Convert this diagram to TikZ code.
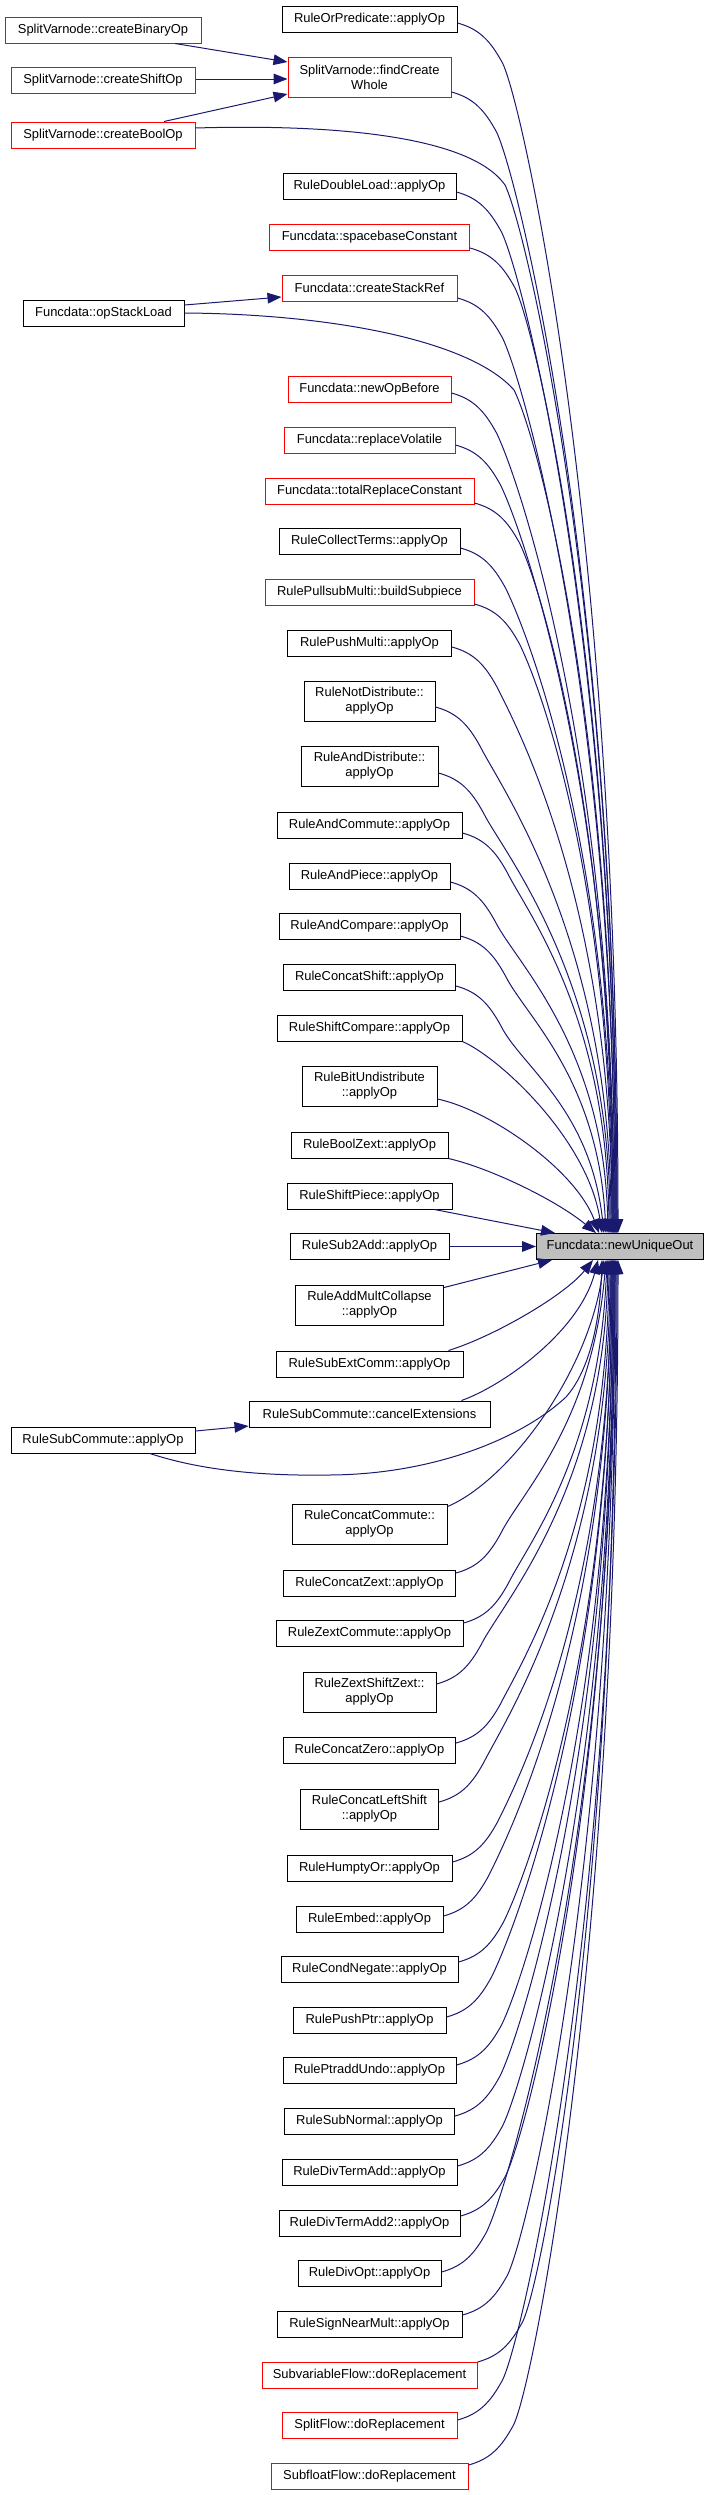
\documentclass[tikz,border=0pt]{standalone}
\usepackage{fontspec}
\setmainfont{Liberation Sans}
\usetikzlibrary{arrows.meta,calc}
\definecolor{edgeblue}{HTML}{191970}
\definecolor{boxred}{HTML}{FF0000}
\definecolor{tgtgray}{HTML}{BFBFBF}
\newcommand\upE[5]{\draw[e] ($(#1.east)+(0,#2)$) .. controls +(22,6) and +(-12,-22) .. ++(45,40) .. controls +(20,40) and +(#5,-#4) .. ($(tgt.north)+(#3,0)$);}
\newcommand\dnE[5]{\draw[e] ($(#1.east)+(0,#2)$) .. controls +(22,-6) and +(-12,22) .. ++(45,-40) .. controls +(20,-40) and +(#5,#4) .. ($(tgt.south)+(#3,0)$);}
\begin{document}
\begin{tikzpicture}[x=0.75pt,y=-0.75pt,
  box/.style={draw=black, line width=0.75pt, rectangle, inner sep=0pt, align=center,
    minimum height=19.5pt, font=\fontsize{9.7}{11.3}\selectfont},
  rbox/.style={box, draw=boxred},
  tall/.style={minimum height=30pt},
  wd/.style={minimum width=#1*0.75pt},
  e/.style={draw=edgeblue, line width=0.75pt, -{Triangle[length=10.5pt,width=8pt]}}]
\useasboundingbox (0,0) rectangle (708,2495);

% left column
\node[rbox, wd=196] (cbin) at (103,30) {SplitVarnode::createBinaryOp};
\node[rbox, wd=184] (cshift) at (103,80) {SplitVarnode::createShiftOp};
\node[rbox, wd=184] (cbool) at (103,135) {SplitVarnode::createBoolOp};
\node[box, wd=161] (osl) at (103.5,313) {Funcdata::opStackLoad};
\node[box, wd=184] (rsca) at (103,1440) {RuleSubCommute::applyOp};

% middle column
\node[box, wd=175] (orp) at (369.5,19) {RuleOrPredicate::applyOp};
\node[rbox, tall, wd=163] (fcw) at (369.5,77) {SplitVarnode::findCreate\\Whole};
\node[box, wd=173] (rdl) at (369.5,186) {RuleDoubleLoad::applyOp};
\node[rbox, wd=200] (sbc) at (369.5,237) {Funcdata::spacebaseConstant};
\node[rbox, wd=175] (csr) at (369.5,288) {Funcdata::createStackRef};
\node[rbox, wd=163] (nob) at (369.5,389) {Funcdata::newOpBefore};
\node[rbox, wd=171] (rv) at (369.5,440) {Funcdata::replaceVolatile};
\node[rbox, wd=209] (trc) at (369.5,491) {Funcdata::totalReplaceConstant};
\node[box, wd=181] (rct) at (369.5,541) {RuleCollectTerms::applyOp};
\node[rbox, wd=209] (rpm) at (369.5,592) {RulePullsubMulti::buildSubpiece};
\node[box, wd=164] (rpush) at (369.5,643) {RulePushMulti::applyOp};
\node[box, tall, wd=131] (rnd) at (369.5,701) {RuleNotDistribute::\\applyOp};
\node[box, tall, wd=137] (rad) at (369.5,766) {RuleAndDistribute::\\applyOp};
\node[box, wd=185] (racomm) at (369.5,825) {RuleAndCommute::applyOp};
\node[box, wd=161] (rap) at (369.5,876) {RuleAndPiece::applyOp};
\node[box, wd=181] (racmp) at (369.5,926) {RuleAndCompare::applyOp};
\node[box, wd=172] (rcs) at (369.5,977) {RuleConcatShift::applyOp};
\node[box, wd=185] (rsc) at (369.5,1028) {RuleShiftCompare::applyOp};
\node[box, tall, wd=135] (rbu) at (369.5,1086) {RuleBitUndistribute\\::applyOp};
\node[box, wd=157] (rbz) at (369.5,1145) {RuleBoolZext::applyOp};
\node[box, wd=165] (rsp) at (369.5,1196) {RuleShiftPiece::applyOp};
\node[box, wd=159] (rs2a) at (369.5,1246.5) {RuleSub2Add::applyOp};
\node[box, tall, wd=148] (ramc) at (369.5,1305) {RuleAddMultCollapse\\::applyOp};
\node[box, wd=187] (rsec) at (369.5,1364) {RuleSubExtComm::applyOp};
\node[box, wd=241] (rsce) at (369.5,1414) {RuleSubCommute::cancelExtensions};
\node[box, tall, wd=155] (rcc) at (369.5,1524) {RuleConcatCommute::\\applyOp};
\node[box, wd=172] (rcz) at (369.5,1583) {RuleConcatZext::applyOp};
\node[box, wd=187] (rzc) at (369.5,1633) {RuleZextCommute::applyOp};
\node[box, tall, wd=133] (rzsz) at (369.5,1692) {RuleZextShiftZext::\\applyOp};
\node[box, wd=172] (rczero) at (369.5,1750) {RuleConcatZero::applyOp};
\node[box, tall, wd=138] (rcls) at (369.5,1809) {RuleConcatLeftShift\\::applyOp};
\node[box, wd=165] (rho) at (369.5,1868) {RuleHumptyOr::applyOp};
\node[box, wd=147] (remb) at (369.5,1919) {RuleEmbed::applyOp};
\node[box, wd=177] (rcn) at (369.5,1969) {RuleCondNegate::applyOp};
\node[box, wd=153] (rpp) at (369.5,2020) {RulePushPtr::applyOp};
\node[box, wd=173] (rpu) at (369.5,2070) {RulePtraddUndo::applyOp};
\node[box, wd=170] (rsn) at (369.5,2121) {RuleSubNormal::applyOp};
\node[box, wd=175] (rdta) at (369.5,2172) {RuleDivTermAdd::applyOp};
\node[box, wd=181] (rdta2) at (369.5,2223) {RuleDivTermAdd2::applyOp};
\node[box, wd=143] (rdo) at (369.5,2273) {RuleDivOpt::applyOp};
\node[box, wd=185] (rsnm) at (369.5,2324) {RuleSignNearMult::applyOp};
\node[rbox, wd=215] (svf) at (369.5,2375) {SubvariableFlow::doReplacement};
\node[rbox, wd=175] (sf) at (369.5,2425) {SplitFlow::doReplacement};
\node[rbox, wd=197] (sff) at (369.5,2476) {SubfloatFlow::doReplacement};

% target
\node[box, fill=tgtgray, wd=167] (tgt) at (620,1246.5) {Funcdata::newUniqueOut};

% left-column edges
\draw[e] ($(cbin.south)+(72,0)$) -- ($(fcw.west)+(0,-15)$);
\draw[e] ($(cshift.east)+(0,-1)$) -- ($(fcw.west)+(0,2)$);
\draw[e] ($(cbool.north)+(61,0)$) -- ($(fcw.west)+(0,17)$);
\draw[e] ($(cbool.east)+(0,-7)$) .. controls (330,124) and (470,135) .. (505,185)
   .. controls +(20,40) and +(0,-629) .. ($(tgt.north)+(-3,0)$);
\draw[e] ($(osl.east)+(0,-8)$) -- ($(csr.west)+(0,9)$);
\draw[e] (osl.east) .. controls (330,314) and (470,340) .. (514,390)
   .. controls +(25,50) and +(0,-506) .. ($(tgt.north)+(-5,0)$);
\draw[e] ($(rsca.east)+(0,-9)$) -- ($(rsce.west)+(0,12)$);
\draw[e] ($(rsca.south)+(47,0)$) .. controls (200,1470) and (260,1476) .. (327,1475)
   .. controls (430,1475) and (520,1440) .. (566,1397)
   .. controls (590,1370) and (600,1320) .. ($(tgt.south)+(-18,0)$);

% upper edges into target
\upE{orp}{4}{-2}{703}{0}
\upE{fcw}{15}{-3}{661}{0}
\upE{rdl}{6}{-4}{601}{0}
\upE{sbc}{11}{-4}{568}{0}
\upE{csr}{10}{-5}{538}{0}
\upE{nob}{4}{-6}{481}{0}
\upE{rv}{5}{-6}{449}{0}
\upE{trc}{12}{-7}{415}{0}
\upE{rct}{7}{-7}{388}{0}
\upE{rpm}{12}{-8}{354}{0}
\upE{rpush}{4}{-8}{328}{0}
\upE{rnd}{6}{-9}{292}{0}
\upE{rad}{7}{-10}{253}{0}
\upE{racomm}{8}{-11}{217}{-2}
\upE{rap}{6}{-12}{187}{-4}
\upE{racmp}{10}{-14}{155}{-8}
\upE{rcs}{9}{-16}{125}{-14}
\draw[e] (rsc.south east) .. controls (500,1058) and (588,1140) .. ($(tgt.north)+(-18,0)$);
\draw[e] ($(rbu.east)+(0,13)$) .. controls (490,1110) and (576,1170) .. ($(tgt.north)+(-21,0)$);
\draw[e] (rbz.south east) .. controls (490,1168) and (556,1200) .. ($(tgt.north)+(-24,0)$);
\draw[e] ($(rsp.south east)+(-18,0)$) -- ($(tgt.north)+(-65,0)$);
\draw[e] (rs2a.east) -- (tgt.west);
\draw[e] ($(ramc.north east)+(0,3)$) -- ($(tgt.south)+(-68,0)$);

% lower edges into target
\draw[e] ($(rsec.north east)+(-15,0)$) .. controls (495,1336) and (565,1295) .. ($(tgt.south)+(-27,0)$);
\draw[e] ($(rsce.north east)+(-29,0)$) .. controls (505,1385) and (580,1330) .. ($(tgt.south)+(-22,0)$);
\draw[e] ($(rcc.north east)+(0,3)$) .. controls (510,1480) and (590,1370) .. ($(tgt.south)+(-16,0)$);
\dnE{rcz}{-10}{-14}{164}{-14}
\dnE{rzc}{-10}{-13}{194}{-8}
\dnE{rzsz}{-8}{-12}{230}{-4}
\dnE{rczero}{-7}{-11}{266}{-2}
\dnE{rcls}{-7}{-10}{301}{0}
\dnE{rho}{-6}{-9}{337}{0}
\dnE{remb}{-3}{-9}{370}{0}
\dnE{rcn}{-7}{-8}{397}{0}
\dnE{rpp}{-3}{-8}{430}{0}
\dnE{rpu}{-5}{-7}{459}{0}
\dnE{rsn}{-5}{-7}{490}{0}
\dnE{rdta}{-6}{-6}{520}{0}
\dnE{rdta2}{-7}{-6}{550}{0}
\dnE{rdo}{-1}{-5}{583}{0}
\dnE{rsnm}{-9}{-5}{609}{0}
\dnE{svf}{-13}{-4}{637}{0}
\dnE{sf}{-5}{-3}{672}{0}
\dnE{sff}{-11}{-2}{699}{0}
\end{tikzpicture}
\end{document}
